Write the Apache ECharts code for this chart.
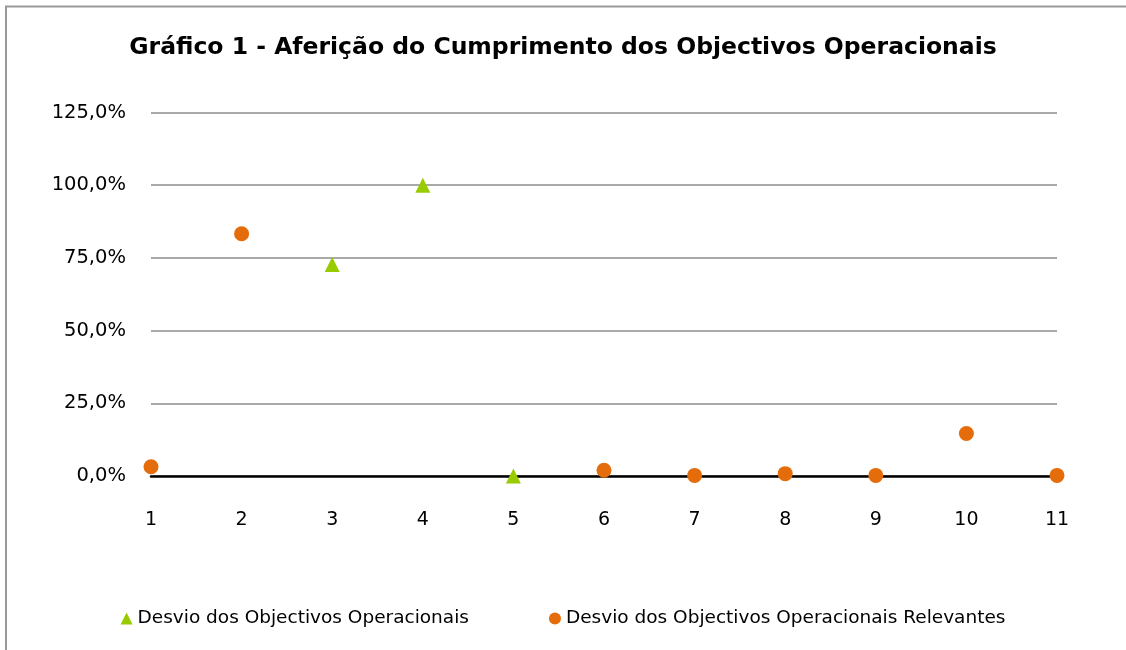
<!DOCTYPE html>
<html><head><meta charset="utf-8">
<script src="https://cdn.jsdelivr.net/npm/echarts@6/dist/echarts.min.js"></script>
<style>html,body{margin:0;padding:0;background:#fff}#c{width:1126px;height:650px}</style>
</head><body><div id="c"></div>
<script>
const xTicks = [1,2,3,4,5,6,7,8,9,10,11];
const seriesNames = ['Desvio dos Objectivos Operacionais', 'Desvio dos Objectivos Operacionais Relevantes'];
const objX = [3, 4, 5];
const objY = [72.7, 100.0, 0.0];
const relX = [1, 2, 6, 7, 8, 9, 10, 11];
const relY = [3.2, 83.3, 2.0, 0.2, 0.8, 0.2, 14.6, 0.2];
const yTicks = [0, 25, 50, 75, 100, 125];

const FONT = '"Comic Sans MS", "DejaVu Sans", sans-serif';
const chart = echarts.init(document.getElementById('c'), null, {renderer: 'canvas'});
const fmt = v => v.toFixed(1).replace('.', ',') + '%';
chart.setOption({
  animation: false,
  backgroundColor: '#fff',
  graphic: [{type: 'polyline', shape: {points: [[6, 650], [6, 6.5], [1126, 6.5]]}, style: {stroke: '#999', lineWidth: 2, fill: null}}],
  title: {text: 'Gráfico 1 - Aferição do Cumprimento dos Objectivos Operacionais', left: 'center', top: 31,
    textStyle: {fontFamily: FONT, fontWeight: 'bold', fontSize: 23.5, color: '#000'}},
  grid: {left: 151, right: 69, top: 112.5, bottom: 174},
  xAxis: {type: 'value', min: 1, max: 11, interval: 1,
    axisLine: {show: true, onZero: true, lineStyle: {color: '#000', width: 2.5}},
    axisTick: {show: false}, splitLine: {show: false},
    axisLabel: {margin: 35, fontFamily: FONT, fontSize: 19, color: '#000',
      formatter: v => xTicks.includes(v) ? String(v) : ''}},
  yAxis: {type: 'value', min: 0, max: 125, interval: 25,
    axisLine: {show: false}, axisTick: {show: false},
    splitLine: {lineStyle: {color: '#8c8c8c', width: 1.5}},
    axisLabel: {margin: 25, fontFamily: FONT, fontSize: 19.5, color: '#000', formatter: v => yTicks.includes(v) ? fmt(v) : ''}},
  legend: {bottom: 17, left: 'center', itemGap: 80, itemWidth: 12, itemHeight: 12,
    textStyle: {fontFamily: FONT, fontSize: 18.5, color: '#000'},
    data: [{name: seriesNames[0], icon: 'triangle'}, {name: seriesNames[1], icon: 'circle'}]},
  series: [
    {name: seriesNames[0], type: 'scatter', symbol: 'triangle', symbolSize: 15,
      itemStyle: {color: '#99CC00', opacity: 1}, data: objX.map((x, i) => [x, objY[i]])},
    {name: seriesNames[1], type: 'scatter', symbol: 'circle', symbolSize: 15,
      itemStyle: {color: '#E46C0A', opacity: 1}, data: relX.map((x, i) => [x, relY[i]])}
  ]
});
</script></body></html>
